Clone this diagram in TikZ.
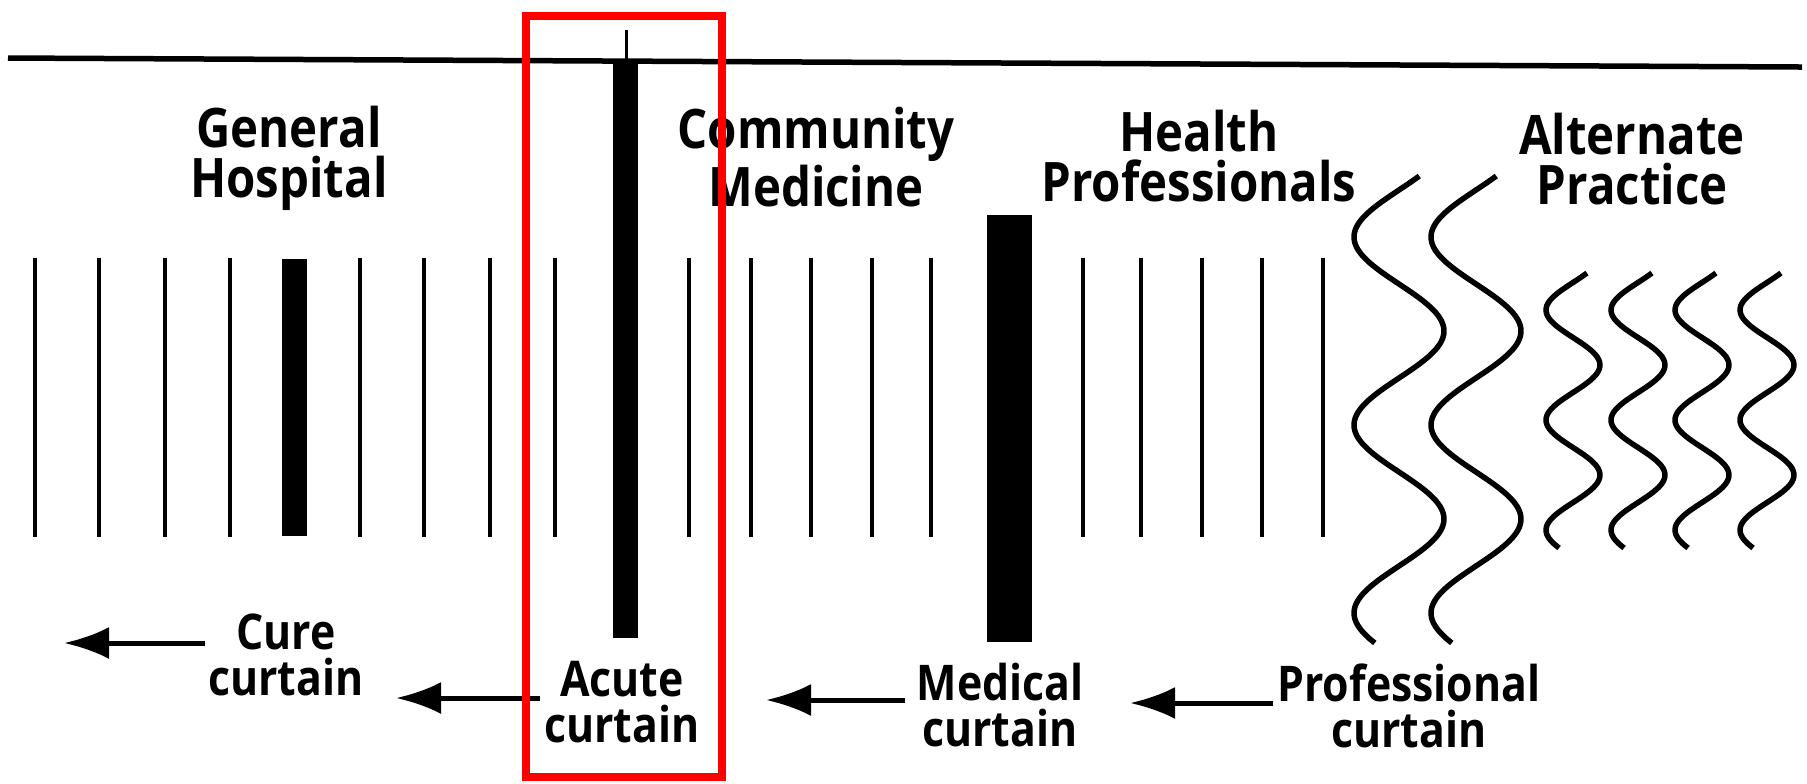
\documentclass[tikz,border=0pt]{standalone}
\usepackage{fontspec}
\setmainfont{Open Sans}[FakeStretch=0.87]
\usetikzlibrary{arrows.meta}
\definecolor{framec}{HTML}{FF0000}

\begin{document}
\begin{tikzpicture}[x=0.1mm, y=-0.1mm,
  head/.style={font=\fontsize{15.5}{14.2}\selectfont\bfseries, align=center, inner sep=0pt},
  lbl/.style={font=\fontsize{14}{13}\selectfont\bfseries, align=center, inner sep=0pt},
  rule/.style={line width=0.48mm},
  wave/.style={line width=0.55mm, smooth},
  arr/.style={-{Latex[length=4.5mm, width=3.2mm]}, line width=0.5mm}]
\useasboundingbox (0,0) rectangle (1807,783);
\draw[line width=0.55mm] (8,58) -- (1802,67);
\foreach \x in {35,99,165,230,360,424,490,555,689,751,811,872,931,1083,1141,1202,1262,1323}
  \draw[rule] (\x,258) -- (\x,537);
\fill (282,259) rectangle (307,536);
\fill (613,62) rectangle (638,638);
\draw[line width=0.3mm] (626,30) -- (626,62);
\fill (987,215) rectangle (1032,642);
\foreach \c in {1399,1476}
  \draw[wave] plot[domain=176:643, samples=90] ({\c-45*cos((\x-237)*1.9149)}, \x);
\foreach \c in {1573,1638,1702,1767}
  \draw[wave] plot[domain=273:548, samples=60] ({\c-27*cos((\x-310)*3.2727)}, \x);
\node[head] (gh) at (289,158) {General\\Hospital};
\node[head] (cm) at (816,157) {Community\\Medicine};
\node[head] (hp) at (1199,156) {Health\\Professionals};
\node[head] (ap) at (1632,159) {Alternate\\Practice};
\node[lbl] (cure) at (286,655) {Cure\\curtain};
\node[lbl] (acute) at (622,702) {Acute\\curtain};
\node[lbl] (medical) at (1000,705) {Medical\\curtain};
\node[lbl] (prof) at (1409,706) {Professional\\curtain};
\coordinate (cureT) at (205,643);
\coordinate (cureH) at (64,643);
\coordinate (acuteT) at (540,698);
\coordinate (acuteH) at (396,698);
\coordinate (medT) at (905,700);
\coordinate (medH) at (766,700);
\coordinate (profT) at (1273,703);
\coordinate (profH) at (1130,703);
\draw[arr] (cureT) -- (cureH);
\draw[arr] (acuteT) -- (acuteH);
\draw[arr] (medT) -- (medH);
\draw[arr] (profT) -- (profH);
\draw[framec, line width=0.8mm] (526,16) rectangle (722,777);
\end{tikzpicture}
\end{document}
